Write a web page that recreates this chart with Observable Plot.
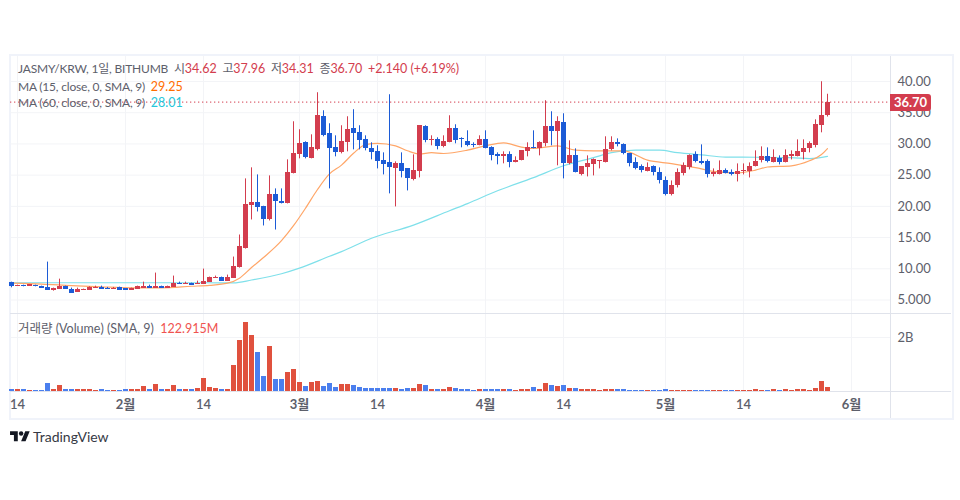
<!DOCTYPE html>
<html lang="ko"><head><meta charset="utf-8">
<script src="https://cdn.jsdelivr.net/npm/d3@7"></script>
<script src="https://cdn.jsdelivr.net/npm/@observablehq/plot@0.6"></script>
<style>
html,body{margin:0;padding:0;background:#fff}
#wrap{position:relative;width:960px;height:500px;overflow:hidden;font-family:Lato,"Noto Sans CJK KR",sans-serif;color:#5d606b}
#frame{position:absolute;left:9px;top:54px;width:941px;height:362px;border:2px solid #f0f3fa}
.abs{position:absolute}
.line{position:absolute;left:18px;font-size:12px;letter-spacing:-0.2px;line-height:16px;white-space:pre}
.line span{font-size:12.5px;letter-spacing:0}
.hline{position:absolute;background:#e0e3eb}
svg{background:transparent!important}
</style></head><body>
<div id="wrap">
<div id="frame"></div>
<div id="price" class="abs" style="left:0;top:56px"></div>
<div id="volume" class="abs" style="left:0;top:314px"></div>
<div class="hline" style="left:10px;top:313px;width:941px;height:1px"></div>
<div class="hline" style="left:890px;top:56px;width:1px;height:362px"></div>
<div class="hline" style="left:10px;top:391px;width:941px;height:1px"></div>
<div id="l1" class="line" style="top:61px"></div>
<div id="l2" class="line" style="top:79px"></div>
<div id="l3" class="line" style="top:95px"></div>
<div id="l4" class="line" style="top:321px;font-size:12.5px;letter-spacing:0"></div>
<div id="tag" class="abs" style="left:890px;top:94px;width:41px;height:17px;background:#d33d4e;border-radius:0 3px 3px 0;color:#fff;font-size:13px;font-weight:700;line-height:17px;text-align:center"></div>
<svg class="abs" style="left:10px;top:429.3px" width="20" height="15.5" viewBox="0 0 36 28"><path fill="#131722" d="M14 22H7V11H0V4h14v18zM28 22h-8l7.5-18h8L28 22z"/><circle fill="#131722" cx="20" cy="8" r="4"/></svg>
<div class="abs" style="left:33px;top:428px;font-size:14px;line-height:18px;color:#363a45">TradingView</div>
</div>
<script>
const open = [7.86,7.22,7.38,7.22,7.38,7.22,7.06,6.58,6.74,7.22,6.74,6.26,6.58,6.58,6.90,7.06,6.90,6.74,7.06,6.79,6.58,6.74,6.90,7.22,6.90,7.22,6.90,7.06,7.70,7.54,7.70,7.54,7.54,7.86,8.50,8.67,8.02,
8.51,10.27,13.32,20.07,20.55,19.91,17.82,21.83,20.71,20.39,25.20,28.25,30.18,27.61,29.05,34.35,31.62,29.38,28.57,30.18,32.43,31.78,30.66,29.21,28.73,27.29,26.97,26.00,26.81,26.00,24.24,25.52,32.75,30.50,30.66,29.54,30.18,32.43,30.82,30.34,29.86,29.70,30.66,29.38,28.25,27.93,28.25,26.97,27.29,28.73,29.38,29.21,30.02,32.75,31.94,33.39,26.81,28.09,25.04,26.17,26.65,27.12,26.96,29.05,30.17,29.85,28.41,26.96,26.32,25.52,26.32,25.36,24.07,21.83,23.27,25.20,26.16,28.25,27.12,27.12,25.04,25.04,25.68,25.36,25.04,25.52,25.52,26.32,27.28,27.93,26.96,27.61,26.96,27.93,27.93,28.57,29.21,29.69,32.90,34.62];
const high = [7.86,7.38,7.38,7.44,7.38,7.22,11.07,6.90,8.34,7.22,6.90,6.90,6.74,7.11,7.22,7.22,7.01,7.01,7.06,6.79,6.90,7.22,7.86,7.38,9.31,7.22,7.22,8.83,7.86,7.86,7.70,8.02,9.95,8.67,8.83,8.67,8.99,
11.88,15.41,24.40,26.17,25.04,20.01,24.88,22.80,22.80,27.45,33.55,32.27,30.34,31.46,38.20,35.31,33.23,31.30,32.91,34.35,35.48,32.91,31.30,30.18,29.70,28.57,37.88,27.13,28.57,26.00,28.25,32.91,32.91,31.30,30.98,31.30,34.51,33.07,30.98,32.10,30.18,31.30,32.10,29.54,28.57,28.73,28.73,27.93,28.89,30.18,32.10,30.34,36.92,35.15,34.35,34.83,30.50,29.21,26.33,28.09,27.60,27.28,31.14,31.14,30.81,30.01,28.41,27.77,26.64,26.96,26.48,26.16,24.72,24.07,26.00,26.96,28.25,28.73,29.85,27.44,26.00,27.28,26.00,25.84,26.80,26.80,26.96,28.89,29.53,29.37,29.05,28.09,29.05,28.89,30.65,30.65,30.33,33.86,39.96,37.96];
const low = [6.95,7.22,7.11,7.22,7.11,6.90,6.58,6.42,6.74,6.74,6.10,6.26,6.58,6.58,6.90,6.74,6.74,6.74,6.58,6.58,6.58,6.74,6.90,6.90,6.90,6.90,6.90,7.06,7.54,7.54,7.38,7.54,7.54,7.86,8.50,8.02,8.02,
8.51,10.11,13.16,17.82,19.10,16.86,17.66,16.21,20.39,20.39,25.20,27.61,27.61,27.61,28.89,31.14,22.80,27.93,28.41,28.73,29.05,29.05,28.89,27.45,26.00,25.04,22.00,19.91,24.56,22.47,24.08,24.56,30.18,29.70,29.05,29.38,30.18,30.02,29.38,29.54,29.38,29.70,29.21,27.29,26.65,26.81,26.17,26.97,27.29,27.93,29.21,28.09,29.54,29.70,26.49,24.40,26.65,25.36,24.88,24.72,24.88,26.00,26.96,28.89,29.53,28.25,26.32,25.84,25.36,25.52,24.88,23.59,21.67,21.67,22.95,24.88,25.84,26.96,26.64,24.55,24.72,25.04,25.20,24.88,23.91,25.04,24.55,26.32,26.96,26.96,26.96,26.64,26.96,27.44,27.93,27.44,28.57,29.37,31.78,34.31];
const close = [7.22,7.38,7.11,7.44,7.11,6.90,6.58,6.90,7.22,6.74,6.10,6.74,6.74,6.95,7.06,6.74,6.74,6.90,6.58,6.58,6.90,7.22,7.22,6.90,7.22,6.90,7.22,7.70,7.54,7.70,7.38,7.70,8.02,8.67,8.67,8.02,8.67,
10.43,13.49,20.23,20.55,19.74,17.82,21.83,20.71,20.39,25.36,28.41,30.02,27.77,29.38,34.51,31.30,29.21,28.57,30.34,32.26,31.62,30.50,29.21,28.57,27.13,26.65,26.17,26.81,25.52,24.40,25.68,32.91,30.50,30.66,29.54,30.34,32.43,30.50,30.66,29.70,29.70,30.66,29.21,28.09,27.93,28.25,26.97,27.29,28.89,29.38,29.21,30.18,32.75,31.94,33.55,26.81,28.09,25.36,26.33,26.81,27.45,27.28,29.05,30.17,29.85,28.41,26.80,26.00,25.68,26.16,25.36,24.07,21.83,23.27,25.36,26.48,28.09,27.12,26.80,25.04,25.36,25.68,25.20,25.04,25.52,25.68,26.32,27.12,27.93,27.12,27.77,26.96,28.09,28.25,28.73,29.21,30.01,33.06,34.51,36.70];
const volumeM = [74,74,74,37,37,37,296,74,222,74,74,74,74,74,37,74,37,37,37,74,74,74,185,74,259,74,74,222,74,74,74,111,482,148,111,74,74,963,1890,2556,2075,1445,556,1667,445,445,704,815,333,185,333,370,
198,309,161,272,272,235,161,124,124,124,124,124,124,86,124,124,272,235,86,86,86,161,124,86,86,49,86,86,86,86,86,86,49,86,86,161,86,309,235,198,235,124,124,86,86,86,49,86,86,86,86,49,49,
49,49,49,49,86,49,49,49,49,49,49,49,49,49,49,49,49,49,49,86,49,49,86,49,86,49,74,86,49,124,383,161];
const ma15Day = [0,5,10,15,20,25,30,33,36,38,40,42,45,47,49,51,53,55,57,59,61,64,66,68,70,72,76,79,82,85,87,91,94,97,102,106,110,114,117,121,124,126,130,133,135,136];
const ma15Val = [7.7,7.55,7.3,7.1,6.95,6.95,7.2,7.35,7.7,8.5,10.2,11.8,14.5,16.9,19.7,22.7,25.2,26.6,28.5,29.9,30.1,29.7,28.9,28.4,28.6,28.47,29.0,29.7,30.18,29.5,29.27,29.7,29.0,28.9,28.9,27.4,26.85,26.2,25.6,25.36,25.8,26.3,26.5,27.3,28.3,29.25];
const ma60Day = [0,10,20,32,37,40,45,48,53,55,60,67,73,76,81,87,92,97,100,104,108,111,115,119,124,130,133,136];
const ma60Val = [7.76,7.76,7.76,7.76,7.75,8.2,9.2,10.1,12.0,12.75,14.9,17.0,19.3,20.44,22.5,24.6,26.5,27.8,28.6,29.0,29.0,28.6,28.25,27.9,27.87,27.8,27.66,28.01];
const dayTicks = [1,32,61,92,122];
const dayLabels = ["14","14","14","14","14"];
const monthTicks = [19,48,79,109,140];
const monthLabels = ["2월","3월","4월","5월","6월"];
const priceTicks = [5,10,15,20,25,30,35,40];
const priceLabels = ["5.000","10.00","15.00","20.00","25.00","30.00","35.00","40.00"];
const lastPrice = 36.70;

const C = {up:"#d33d4e",down:"#1c5bd6",vUp:"#e0513e",vDown:"#4b7fee",grid:"#f3f4f7",ma15:"#ffa668",ma60:"#7fe0ea",axis:"#5d606b"};
const RED="#d33d4e";
const days = d3.range(open.length);
const isUp = i => close[i] >= open[i];
const xScale = {type:"linear",domain:[-1/6,146.5]};
const hw = 2.5/6;
const font = 'Lato,"Noto Sans CJK KR",sans-serif';
const allTicks = dayTicks.concat(monthTicks);

const price = Plot.plot({
  width:960,height:257,marginLeft:10,marginRight:70,marginTop:0,marginBottom:0,
  style:{fontFamily:font,background:"transparent",overflow:"visible"},
  x:{...xScale,axis:null},
  y:{type:"linear",domain:[5,40],range:[243.5,25],axis:null},
  marks:[
    Plot.gridX(allTicks,{stroke:C.grid,strokeOpacity:1}),
    Plot.gridY(priceTicks,{stroke:C.grid,strokeOpacity:1}),
    Plot.axisY(priceTicks,{anchor:"right",tickSize:0,tickPadding:7,tickFormat:(d,i)=>priceLabels[i],fontSize:13,fill:C.axis,label:null}),
    Plot.ruleY([lastPrice],{stroke:RED,strokeDasharray:"1.3,2.7",strokeWidth:1}),
    Plot.line(d3.zip(ma60Day,ma60Val),{x:d=>d[0],y:d=>d[1],stroke:C.ma60,strokeWidth:1.2,curve:"monotone-x"}),
    Plot.line(d3.zip(ma15Day,ma15Val),{x:d=>d[0],y:d=>d[1],stroke:C.ma15,strokeWidth:1.2,curve:"monotone-x"}),
    Plot.ruleX(days,{x:i=>i,y1:i=>low[i],y2:i=>high[i],stroke:i=>isUp(i)?C.up:C.down,strokeWidth:1}),
    Plot.rect(days,{x1:i=>i-hw,x2:i=>i+hw,y1:i=>open[i],y2:i=>close[i],fill:i=>isUp(i)?C.up:C.down,shapeRendering:"crispEdges"})
  ]
});
document.getElementById("price").append(price);

const volume = Plot.plot({
  width:960,height:105,marginLeft:10,marginRight:70,marginTop:0,marginBottom:28,
  style:{fontFamily:font,background:"transparent",overflow:"visible"},
  x:{...xScale,axis:null},
  y:{type:"linear",domain:[0,2000],range:[77,23],axis:null},
  marks:[
    Plot.gridX(allTicks,{stroke:C.grid,strokeOpacity:1}),
    Plot.gridY([2000],{stroke:C.grid,strokeOpacity:1}),
    Plot.axisY([2000],{anchor:"right",tickSize:0,tickPadding:7,tickFormat:()=>"2B",fontSize:13,fill:C.axis,label:null}),
    Plot.rectY(days,{x1:i=>i-hw,x2:i=>i+hw,y:i=>volumeM[i],fill:i=>isUp(i)?C.vUp:C.vDown,shapeRendering:"crispEdges"}),
    Plot.axisX(dayTicks,{anchor:"bottom",tickSize:0,tickPadding:8,tickFormat:(d,i)=>dayLabels[i],fontSize:13,fontWeight:600,fill:C.axis,label:null}),
    Plot.axisX(monthTicks,{anchor:"bottom",tickSize:0,tickPadding:8,tickFormat:(d,i)=>monthLabels[i],fontSize:13,fontWeight:700,fill:C.axis,label:null})
  ]
});
document.getElementById("volume").append(volume);

const s=(t,c)=>`<span style="color:${c}">${t}</span>`;
const n=open.length-1;
document.getElementById("l1").innerHTML="JASMY/KRW, 1일, BITHUMB  시"+s(open[n].toFixed(2),RED)+"  고"+s(high[n].toFixed(2),RED)+"  저"+s(low[n].toFixed(2),RED)+"  종"+s(close[n].toFixed(2),RED)+"  "+s("+2.140 (+6.19%)",RED);
document.getElementById("l2").innerHTML="MA (15, close, 0, SMA, 9)  "+s(ma15Val[ma15Val.length-1].toFixed(2),"#ff6d00");
document.getElementById("l3").innerHTML="MA (60, close, 0, SMA, 9)  "+s(ma60Val[ma60Val.length-1].toFixed(2),"#26c6da");
document.getElementById("l4").innerHTML="거래량 (Volume) (SMA, 9)  "+s("122.915M","#ef5350");
document.getElementById("tag").textContent=lastPrice.toFixed(2);
</script>
</body></html>
